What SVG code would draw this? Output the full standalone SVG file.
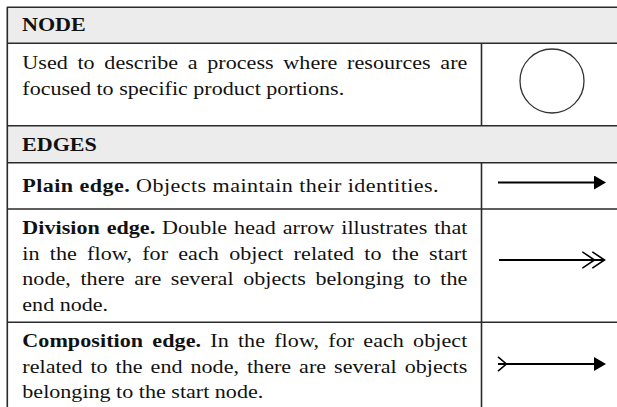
<svg xmlns="http://www.w3.org/2000/svg" width="617" height="407" viewBox="0 0 617 407">
  <style>
    .rule { stroke: #2b2b2b; stroke-width: 1.6; fill: none; }
    .band { fill: #ececec; }
    .b { font-weight: bold; }
    .edge { stroke: #000; stroke-width: 2; fill: none; }
    .shape { stroke: #333; stroke-width: 1.3; fill: none; }
  </style>
  <defs>
    <marker id="head" viewBox="0 0 12 14" refX="6" refY="7" markerWidth="12" markerHeight="14" markerUnits="userSpaceOnUse" orient="auto">
      <path d="M0,0 L12,7 L0,14 Z" fill="#000"/>
    </marker>
    <marker id="double-head" viewBox="0 0 24 18" refX="23" refY="9" markerWidth="24" markerHeight="18" markerUnits="userSpaceOnUse" orient="auto">
      <path d="M0.8,0.8 L13,9 L0.8,17.2 M10.8,0.8 L23,9 L10.8,17.2" fill="none" stroke="#000" stroke-width="1.6"/>
    </marker>
    <marker id="tail" viewBox="0 0 10 16" refX="0.6" refY="8" markerWidth="10" markerHeight="16" markerUnits="userSpaceOnUse" orient="auto">
      <path d="M0.6,0.8 L9,8 L0.6,15.2" fill="none" stroke="#000" stroke-width="1.6"/>
    </marker>
  </defs>

  <rect width="617" height="407" fill="#ffffff"/>

  <!-- header bands -->
  <rect class="band" x="7" y="7" width="613" height="36"/>
  <rect class="band" x="7" y="125.7" width="613" height="37"/>

  <!-- table rules -->
  <g id="table-rules">
    <path class="rule" d="M7,7.3 H620 M7,43.3 H620 M7,125.7 H620 M7,162.7 H620 M7,209 H620 M7,322.3 H620"/>
    <path class="rule" d="M7.3,7 V407"/>
    <path class="rule" d="M481.5,43.3 V125.7 M481.5,162.7 V407"/>
  </g>

  <!-- cell texts: serif face, slightly widened -->
  <g transform="scale(1.15 1)" font-family="Liberation Serif, serif" font-size="19.2" fill="#111">
    <g id="node-header">
      <text class="b" x="19.1" y="31">NODE</text>
    </g>
    <g id="node-row">
      <text x="19.4" y="69.3" word-spacing="3.6" textLength="387" lengthAdjust="spacing">Used to describe a process where resources are</text>
      <text x="19.4" y="95">focused to specific product portions.</text>
    </g>
    <g id="edges-header">
      <text class="b" x="19.1" y="151">EDGES</text>
    </g>
    <g id="plain-edge-row">
      <text x="19.4" y="192" textLength="362" lengthAdjust="spacing"><tspan class="b">Plain edge.</tspan> Objects maintain their identities.</text>
    </g>
    <g id="division-edge-row">
      <text x="19.4" y="234" word-spacing="1.2" textLength="387" lengthAdjust="spacing"><tspan class="b">Division edge.</tspan> Double head arrow illustrates that</text>
      <text x="19.4" y="259.7" word-spacing="4" textLength="387" lengthAdjust="spacing">in the flow, for each object related to the start</text>
      <text x="19.4" y="285.4" word-spacing="3.5" textLength="387" lengthAdjust="spacing">node, there are several objects belonging to the</text>
      <text x="19.4" y="311">end node.</text>
    </g>
    <g id="composition-edge-row">
      <text x="19.4" y="347" word-spacing="3.1" textLength="387" lengthAdjust="spacing"><tspan class="b">Composition edge.</tspan> In the flow, for each object</text>
      <text x="19.4" y="372.7" word-spacing="2.1" textLength="387" lengthAdjust="spacing">related to the end node, there are several objects</text>
      <text x="19.4" y="398.4">belonging to the start node.</text>
    </g>
  </g>

  <!-- node symbol -->
  <g id="node-symbol">
    <circle class="shape" cx="552" cy="81" r="32"/>
  </g>

  <!-- edge symbols -->
  <g id="connectors">
    <path id="plain-edge" class="edge" d="M498,182.5 H600" marker-end="url(#head)"/>
    <path id="division-edge" class="edge" d="M499,260 H604.5" marker-end="url(#double-head)"/>
    <path id="composition-edge" class="edge" d="M498,364 H600" marker-start="url(#tail)" marker-end="url(#head)"/>
  </g>
</svg>
